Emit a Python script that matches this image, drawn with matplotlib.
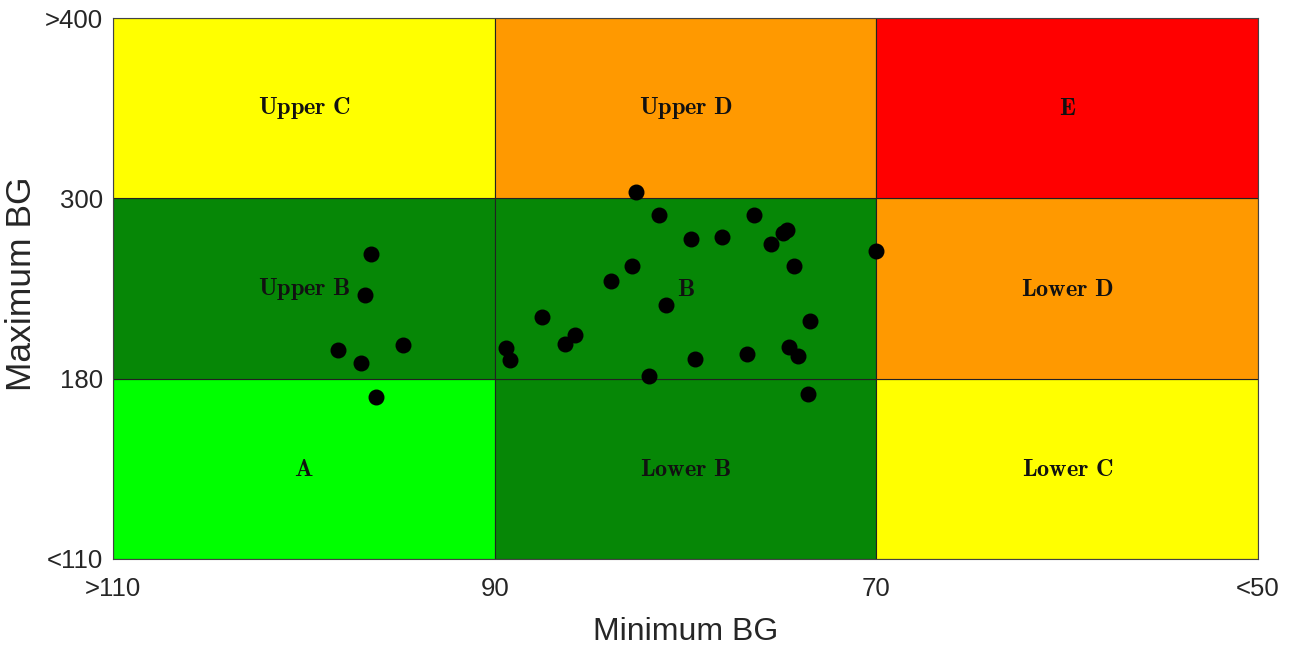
import numpy as np
import matplotlib
matplotlib.use("Agg")
import matplotlib.pyplot as plt
from matplotlib.patches import Rectangle

# ---- data ----
min_bg_edges = [110, 90, 70, 50]
max_bg_edges = [110, 180, 300, 400]
x_tick_labels = [">110", "90", "70", "<50"]
y_tick_labels = ["<110", "180", "300", ">400"]

# zone names and colours, rows bottom->top, columns left->right
zone_names = [["A", "Lower B", "Lower C"],
              ["Upper B", "B", "Lower D"],
              ["Upper C", "Upper D", "E"]]
zone_colors = [["#00FF00", "#068706", "#FFFF00"],
               ["#068706", "#068706", "#FF9900"],
               ["#FFFF00", "#FF9900", "#FF0000"]]

min_bg = [96.5, 96.8, 98.2, 94.8, 97.0, 96.2, 89.4, 89.2, 87.5, 86.3, 85.8,
          83.9, 82.8, 82.6, 81.4, 81.9, 81.0, 79.7, 79.5, 78.1, 76.8, 76.4,
          75.5, 74.9, 74.7, 74.3, 74.6, 74.1, 73.6, 73.5, 70.0]
max_bg = [263.0, 235.7, 199.1, 202.4, 190.6, 172.8, 200.2, 192.4, 221.3, 203.1, 209.1,
          245.2, 255.0, 303.7, 288.8, 182.1, 229.1, 273.0, 193.1, 274.1, 196.3, 288.8,
          269.7, 277.2, 279.0, 255.2, 201.3, 195.1, 173.9, 218.6, 265.0]


def fwd(y):
    return np.interp(y, max_bg_edges, [0, 1, 2, 3])


def inv(g):
    return np.interp(g, [0, 1, 2, 3], max_bg_edges)


plt.rcParams["mathtext.fontset"] = "cm"

fig = plt.figure(figsize=(12.96, 6.46), dpi=100)
ax = fig.add_axes([113 / 1296, 87 / 646, 1145 / 1296, 541 / 646])
ax.set_yscale("function", functions=(fwd, inv))
ax.set_xlim(min_bg_edges[0], min_bg_edges[-1])
ax.set_ylim(max_bg_edges[0], max_bg_edges[-1])

for r in range(3):
    for c in range(3):
        x0, x1 = min_bg_edges[c], min_bg_edges[c + 1]
        y0, y1 = max_bg_edges[r], max_bg_edges[r + 1]
        ax.add_patch(Rectangle((x0, y0), x1 - x0, y1 - y0,
                               facecolor=zone_colors[r][c], edgecolor="#222222",
                               linewidth=0.8, zorder=1))
        t = ax.text((x0 + x1) / 2, inv((fwd(y0) + fwd(y1)) / 2),
                    r"$\mathbf{" + zone_names[r][c].replace(" ", r"\ ") + "}$",
                    ha="center", va="center", fontsize=17.5, color="#111111", zorder=2)
        t.set_math_fontfamily("cm")

ax.scatter(min_bg, max_bg, s=110, color="black", zorder=3, clip_on=False)

ax.set_xticks(min_bg_edges)
ax.set_xticklabels(x_tick_labels)
ax.set_yticks(max_bg_edges)
ax.set_yticklabels(y_tick_labels)
ax.tick_params(length=0, labelsize=18.5, colors="#262626")
ax.tick_params(axis="x", pad=13)
ax.tick_params(axis="y", pad=7)
for lab in ax.get_xticklabels() + ax.get_yticklabels():
    lab.set_family("Liberation Sans")
ax.set_xlabel("Minimum BG", fontsize=23, family="Liberation Sans", color="#262626")
ax.set_ylabel("Maximum BG", fontsize=25.5, family="Liberation Sans", color="#262626")
ax.xaxis.set_label_coords(0.5, -0.135)
ax.yaxis.set_label_coords(-0.0795, 0.509)
ax.xaxis.label.set_va("center")
ax.yaxis.label.set_va("center")
for s in ax.spines.values():
    s.set_color("#444444")
    s.set_linewidth(0.8)

fig.savefig("out.png", dpi=100)
